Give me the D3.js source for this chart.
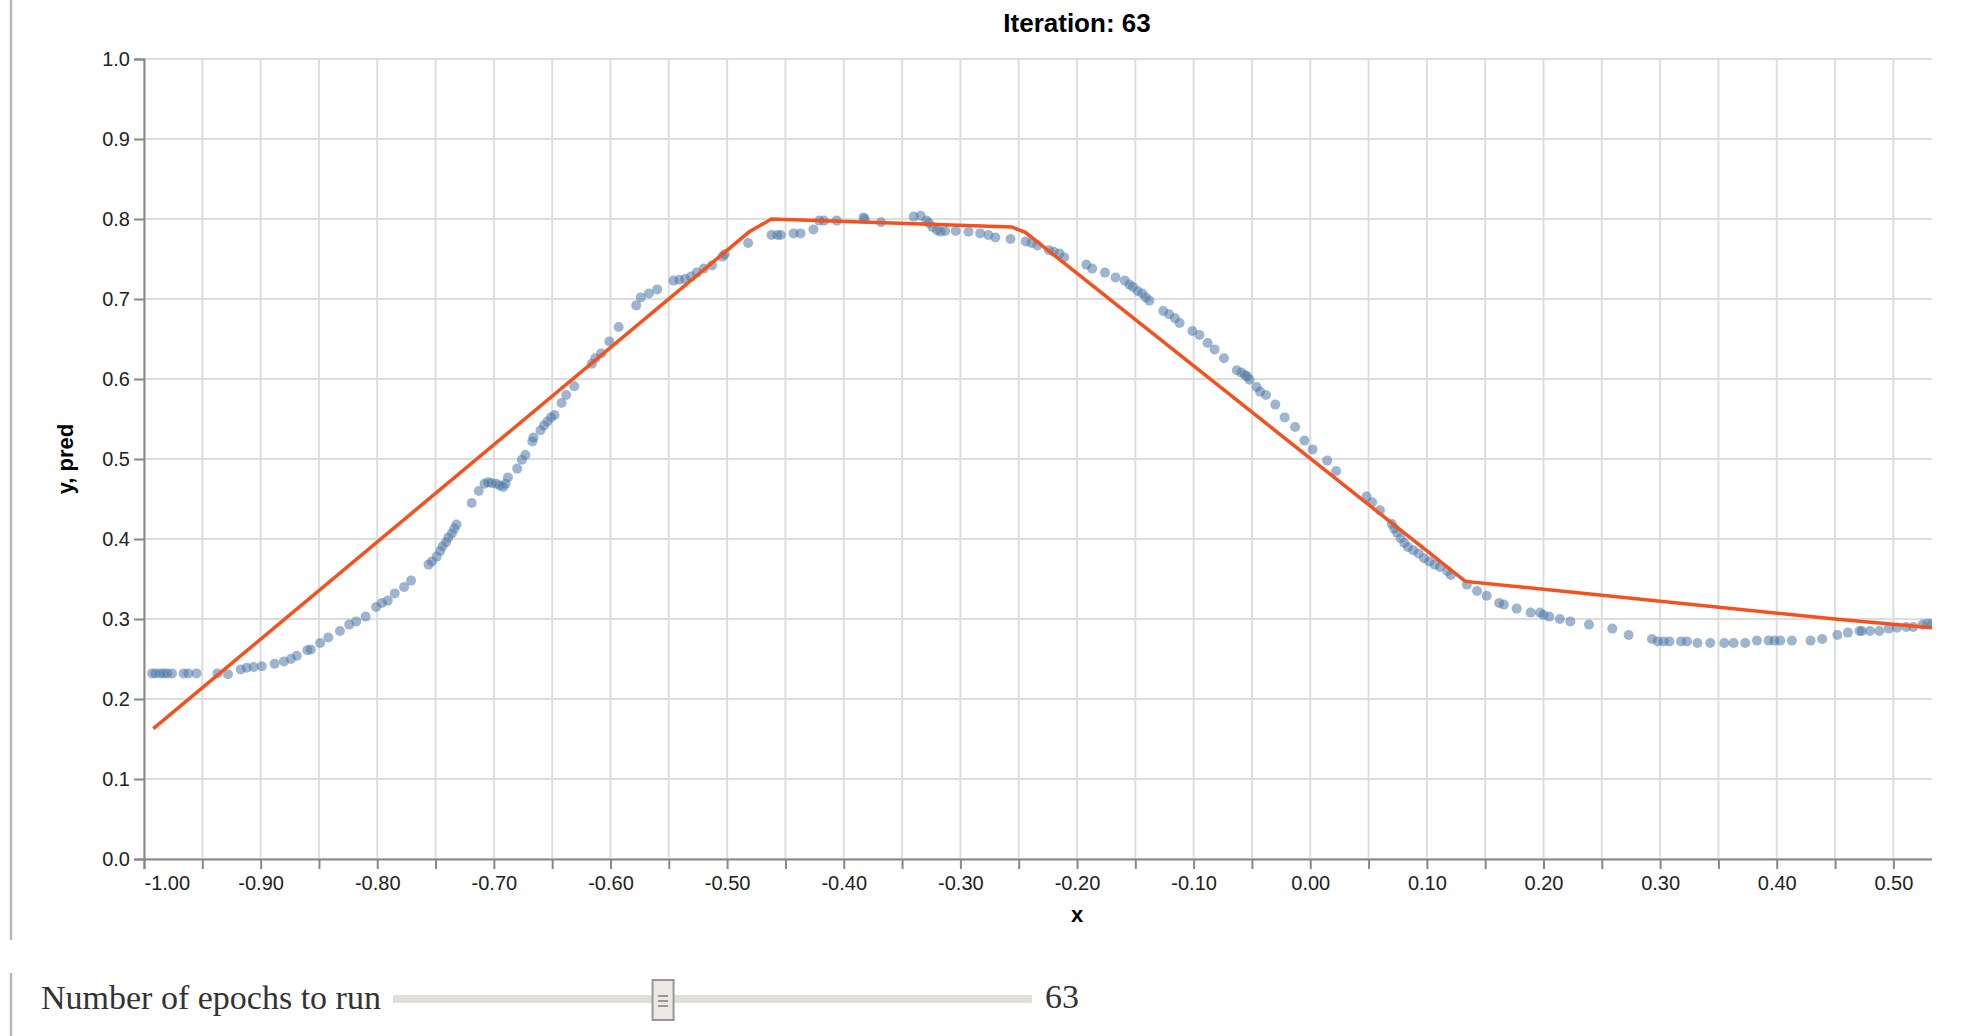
<!DOCTYPE html>
<html>
<head>
<meta charset="utf-8">
<script src="https://cdn.jsdelivr.net/npm/d3@7"></script>
<style>
  html, body { margin: 0; padding: 0; background: #fff; }
  svg { display: block; }
</style>
</head>
<body>
<div id="chart"></div>
<script>
// training data (x, y)
var dotX = [-0.993,-0.990,-0.986,-0.983,-0.980,-0.976,-0.966,-0.962,-0.955,-0.937,-0.928,-0.917,-0.912,-0.906,-0.899,
  -0.888,-0.880,-0.874,-0.869,-0.860,-0.857,-0.849,-0.842,-0.832,-0.824,-0.818,-0.810,-0.801,-0.796,-0.791,-0.785,
  -0.777,-0.771,-0.756,-0.753,-0.749,-0.746,-0.744,-0.741,-0.739,-0.736,-0.734,-0.732,-0.719,-0.713,-0.708,-0.705,
  -0.702,-0.698,-0.695,-0.692,-0.690,-0.688,-0.680,-0.676,-0.673,-0.667,-0.666,-0.660,-0.657,-0.654,-0.651,-0.648,
  -0.642,-0.638,-0.631,-0.616,-0.613,-0.608,-0.601,-0.593,-0.578,-0.574,-0.567,-0.560,-0.546,-0.541,-0.536,-0.531,
  -0.526,-0.520,-0.513,-0.504,-0.502,-0.482,-0.462,-0.457,-0.454,-0.443,-0.437,-0.426,-0.421,-0.417,-0.406,-0.383,
  -0.382,-0.368,-0.340,-0.334,-0.329,-0.327,-0.324,-0.320,-0.317,-0.313,-0.304,-0.293,-0.283,-0.276,-0.270,-0.257,
  -0.244,-0.239,-0.234,-0.224,-0.220,-0.215,-0.211,-0.192,-0.187,-0.176,-0.167,-0.159,-0.155,-0.152,-0.148,-0.144,
  -0.141,-0.138,-0.126,-0.121,-0.116,-0.112,-0.101,-0.095,-0.088,-0.082,-0.074,-0.063,-0.059,-0.056,-0.054,-0.052,
  -0.046,-0.043,-0.038,-0.030,-0.022,-0.013,-0.005,0.002,0.0145,0.0222,0.0483,0.053,0.0597,0.0698,0.072,0.0744,
  0.0775,0.0806,0.0837,0.0883,0.0929,0.0975,0.1021,0.1067,0.1113,0.1175,0.1205,0.1343,0.143,0.1512,0.162,0.166,
  0.177,0.189,0.197,0.200,0.205,0.214,0.223,0.239,0.259,0.273,0.293,0.298,0.303,0.308,0.318,0.323,0.332,0.343,
  0.355,0.363,0.373,0.383,0.393,0.398,0.403,0.413,0.429,0.439,0.452,0.461,0.471,0.473,0.480,0.488,0.496,0.503,
  0.511,0.517,0.525,0.529,0.533,0.540];
var dotY = [0.232,0.232,0.232,0.232,0.232,0.232,0.232,0.232,0.232,0.232,0.231,0.237,0.239,0.240,0.241,
  0.244,0.247,0.250,0.254,0.261,0.262,0.270,0.277,0.285,0.293,0.297,0.303,0.315,0.320,0.323,0.332,
  0.340,0.348,0.368,0.372,0.378,0.385,0.391,0.396,0.402,0.407,0.413,0.418,0.445,0.460,0.469,0.471,
  0.470,0.469,0.467,0.465,0.469,0.477,0.488,0.499,0.505,0.522,0.527,0.536,0.542,0.547,0.552,0.555,
  0.570,0.580,0.591,0.619,0.626,0.632,0.647,0.665,0.692,0.702,0.707,0.712,0.723,0.724,0.725,0.728,
  0.733,0.738,0.742,0.753,0.756,0.770,0.780,0.780,0.780,0.782,0.782,0.787,0.798,0.798,0.798,0.802,
  0.800,0.796,0.803,0.804,0.798,0.795,0.790,0.786,0.784,0.785,0.785,0.784,0.782,0.780,0.777,0.775,
  0.772,0.770,0.767,0.761,0.759,0.757,0.752,0.743,0.738,0.733,0.727,0.723,0.718,0.715,0.710,0.707,
  0.702,0.698,0.685,0.681,0.676,0.670,0.660,0.655,0.645,0.637,0.626,0.611,0.608,0.605,0.603,0.599,
  0.590,0.584,0.580,0.568,0.552,0.540,0.523,0.512,0.498,0.485,0.453,0.446,0.436,0.419,0.413,0.408,
  0.401,0.395,0.390,0.386,0.382,0.376,0.372,0.368,0.365,0.360,0.355,0.343,0.335,0.329,0.320,0.318,
  0.313,0.308,0.308,0.305,0.303,0.300,0.297,0.293,0.288,0.280,0.275,0.272,0.272,0.272,0.272,0.272,0.270,0.270,
  0.270,0.270,0.270,0.273,0.273,0.273,0.273,0.273,0.273,0.275,0.280,0.283,0.285,0.285,0.285,0.285,0.288,0.289,
  0.290,0.290,0.293,0.294,0.294,0.295];

// network prediction (piecewise linear)
var predX = [-0.992, -0.481, -0.462, -0.256, -0.244, 0.133, 0.450, 0.600];
var predY = [0.163, 0.784, 0.800, 0.790, 0.783, 0.347, 0.300, 0.280];

var xDomain = [-1.0, 0.6];
var yDomain = [0.0, 1.0];
var iteration = 63;
var epochsMax = 150;
var sliderLabel = "Number of epochs to run";

var W = 1978, H = 1036;
var viewRight = 1932;   // the output cell cuts the chart here
var sans = "'Liberation Sans', Arial, sans-serif";
var serif = "'Liberation Serif', 'Times New Roman', serif";

var fmt = d3.formatLocale({decimal: ".", thousands: ",", grouping: [3], currency: ["", ""], minus: "-"});
var fx = fmt.format(".2f"), fy = fmt.format(".1f");

var svg = d3.select("#chart").append("svg")
    .attr("width", W)
    .attr("height", H);

// output cell bars on the left
svg.append("line").attr("x1", 11).attr("x2", 11).attr("y1", 0).attr("y2", 940)
    .style("stroke", "#b6b6be").style("stroke-width", 2.5);
svg.append("line").attr("x1", 11).attr("x2", 11).attr("y1", 973).attr("y2", H)
    .style("stroke", "#b6b6be").style("stroke-width", 2.5);

svg.append("clipPath").attr("id", "view")
    .append("rect").attr("x", 0).attr("y", 0).attr("width", viewRight).attr("height", 940);

var g = svg.append("g").attr("clip-path", "url(#view)");

var x = d3.scaleLinear().domain(xDomain).range([144, 2010]);
var y = d3.scaleLinear().domain(yDomain).range([859, 59]);

var xTicks = x.ticks(32);
var yTicks = y.ticks(10);

// grid
g.append("g").selectAll("line").data(xTicks).enter().append("line")
    .attr("x1", function(d) { return x(d); })
    .attr("x2", function(d) { return x(d); })
    .attr("y1", y(1)).attr("y2", y(0))
    .style("stroke", "#ddd").style("stroke-width", 2);
g.append("g").selectAll("line").data(yTicks).enter().append("line")
    .attr("x1", x(-1)).attr("x2", x(0.6))
    .attr("y1", function(d) { return y(d); })
    .attr("y2", function(d) { return y(d); })
    .style("stroke", "#ddd").style("stroke-width", 2);

// axes
var xAxis = d3.axisBottom(x)
    .tickValues(xTicks)
    .tickSize(10)
    .tickPadding(7)
    .tickFormat(function(d, i) {
        // every other label, and none past the cut edge
        return (i % 2 == 0 && x(d) + 20 < viewRight) ? fx(d) : "";
    });
var gx = g.append("g").attr("transform", "translate(0," + y(0) + ")").call(xAxis);

var yAxis = d3.axisLeft(y)
    .tickValues(yTicks)
    .tickSize(10)
    .tickPadding(4)
    .tickFormat(fy);
var gy = g.append("g").attr("transform", "translate(" + x(-1) + ",0)").call(yAxis);

[gx, gy].forEach(function(a) {
    a.select(".domain").style("stroke", "#888").style("stroke-width", 2);
    a.selectAll(".tick line").style("stroke", "#888").style("stroke-width", 2);
    a.selectAll(".tick text")
        .style("font-family", sans)
        .style("font-size", "20px")
        .style("fill", "#222");
});
gx.selectAll(".tick text")
    .filter(function(d, i) { return i == 0; })
    .attr("text-anchor", "start");

// axis titles and chart title
var midX = (x.range()[0] + x.range()[1]) / 2;
g.append("text")
    .attr("x", midX).attr("y", 922)
    .attr("text-anchor", "middle")
    .style("font-family", sans).style("font-size", "22px").style("font-weight", "bold")
    .text("x");
g.append("text")
    .attr("transform", "translate(73," + (y(0) + y(1)) / 2 + ") rotate(-90)")
    .attr("text-anchor", "middle")
    .style("font-family", sans).style("font-size", "22px").style("font-weight", "bold")
    .text("y, pred");
g.append("text")
    .attr("x", midX).attr("y", 32)
    .attr("text-anchor", "middle")
    .style("font-family", sans).style("font-size", "26px").style("font-weight", "bold")
    .text("Iteration: " + iteration);

// points
var pts = dotX.map(function(d, i) { return {x: d, y: dotY[i]}; });
g.append("g").selectAll("circle").data(pts).enter().append("circle")
    .attr("cx", function(d) { return x(d.x); })
    .attr("cy", function(d) { return y(d.y); })
    .attr("r", 5)
    .style("fill", "#4c78a8")
    .style("fill-opacity", 0.55);

// prediction line
var pred = predX.map(function(d, i) { return {x: d, y: predY[i]}; });
var line = d3.line()
    .x(function(d) { return x(d.x); })
    .y(function(d) { return y(d.y); });
g.append("path")
    .datum(pred)
    .attr("d", line)
    .style("fill", "none")
    .style("stroke", "#f4511e")
    .style("stroke-width", 3.5);

// slider widget
var s = svg.append("g");
s.append("text")
    .attr("x", 41).attr("y", 1009)
    .style("font-family", serif).style("font-size", "34px").style("fill", "#333")
    .text(sliderLabel);

var sx = d3.scaleLinear().domain([0, epochsMax]).range([403.5, 1021.5]);
s.append("rect")
    .attr("x", 393).attr("y", 995).attr("width", 639).attr("height", 8)
    .style("fill", "#e1ded9");
var thumb = s.append("g").attr("transform", "translate(" + sx(iteration) + ",0)");
thumb.append("rect")
    .attr("x", -10.5).attr("y", 980).attr("width", 21).attr("height", 40)
    .style("fill", "#ece9e5").style("stroke", "#9a9894").style("stroke-width", 2);
thumb.selectAll("line").data([996, 1001, 1006]).enter().append("line")
    .attr("x1", -5).attr("x2", 5)
    .attr("y1", function(d) { return d; }).attr("y2", function(d) { return d; })
    .style("stroke", "#9a9894").style("stroke-width", 2);
s.append("text")
    .attr("x", 1045).attr("y", 1008)
    .style("font-family", serif).style("font-size", "34px").style("fill", "#333")
    .text(iteration);
</script>
</body>
</html>
